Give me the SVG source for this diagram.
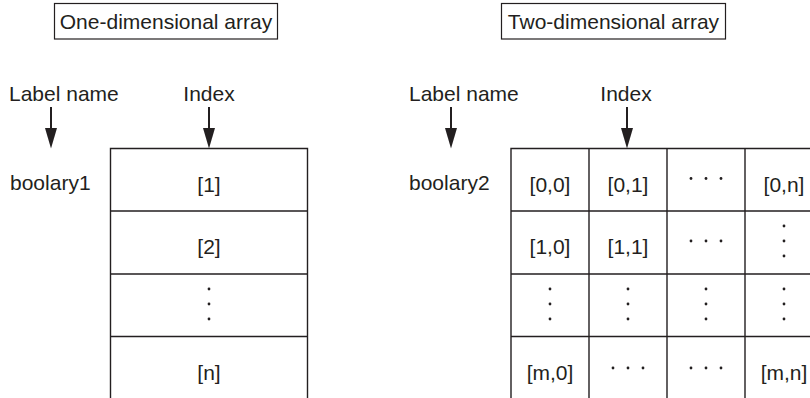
<svg xmlns="http://www.w3.org/2000/svg" width="810" height="398" viewBox="0 0 810 398">
<style>
text{font-family:"Liberation Sans",Arial,sans-serif;font-size:21px;fill:#231f20}
.c{text-anchor:middle}
.box{fill:none;stroke:#231f20;stroke-width:1.2}
.grid{fill:none;stroke:#231f20;stroke-width:1.4}
.shaft{stroke:#231f20;stroke-width:2}
.head{fill:#231f20}
.dot{fill:#231f20}
</style>
<defs>
<g id="vdots"><circle class="dot" cx="0" cy="-15" r="1.4"/><circle class="dot" cx="0" cy="0" r="1.4"/><circle class="dot" cx="0" cy="15" r="1.4"/></g>
<g id="hdots"><circle class="dot" cx="-15" cy="0" r="1.4"/><circle class="dot" cx="0" cy="0" r="1.4"/><circle class="dot" cx="15" cy="0" r="1.4"/></g>
</defs>
<g id="title1"><rect class="box" x="54.5" y="3.5" width="223" height="35.5"/><text class="c" x="166" y="29">One-dimensional array</text></g>
<g id="title2"><rect class="box" x="501.5" y="3.5" width="224" height="35.5"/><text class="c" x="613.5" y="29">Two-dimensional array</text></g>
<g id="labels">
<text x="9" y="100.5">Label name</text>
<text class="c" x="209" y="100.5">Index</text>
<text x="409" y="100.5">Label name</text>
<text class="c" x="626" y="100.5">Index</text>
<text x="10" y="190">boolary1</text>
<text x="409" y="190">boolary2</text>
</g>
<g id="connectors">
<line class="shaft" x1="51" y1="107" x2="51" y2="130"/><polygon class="head" points="45,128 57,128 51,148.5"/>
<line class="shaft" x1="209" y1="107" x2="209" y2="130"/><polygon class="head" points="203,128 215,128 209,148.5"/>
<line class="shaft" x1="451" y1="107" x2="451" y2="130"/><polygon class="head" points="445,128 457,128 451,148.5"/>
<line class="shaft" x1="627" y1="107" x2="627" y2="130"/><polygon class="head" points="621,128 633,128 627,148.5"/>
</g>
<g id="array1">
<path class="grid" d="M110.5,400 V148.5 H307.5 V400 M110.5,211 H307.5 M110.5,274 H307.5 M110.5,336.5 H307.5"/>
<text class="c" x="209" y="191.5">[1]</text>
<text class="c" x="209" y="254">[2]</text>
<use href="#vdots" x="209" y="304"/>
<text class="c" x="209" y="379.5">[n]</text>
</g>
<g id="array2">
<path class="grid" d="M811,148.5 H511 V400 M589,148.5 V400 M667,148.5 V400 M745,148.5 V400 M511,211 H811 M511,274 H811 M511,336.5 H811"/>
<text class="c" x="550" y="191.5">[0,0]</text>
<text class="c" x="628" y="191.5">[0,1]</text>
<use href="#hdots" x="706" y="178.5"/>
<text class="c" x="784" y="191.5">[0,n]</text>
<text class="c" x="550" y="254">[1,0]</text>
<text class="c" x="628" y="254">[1,1]</text>
<use href="#hdots" x="706" y="241"/>
<use href="#vdots" x="784" y="241"/>
<use href="#vdots" x="550" y="304"/>
<use href="#vdots" x="628" y="304"/>
<use href="#vdots" x="706" y="304"/>
<use href="#vdots" x="784" y="304"/>
<text class="c" x="550" y="379.5">[m,0]</text>
<use href="#hdots" x="628" y="368"/>
<use href="#hdots" x="706" y="368"/>
<text class="c" x="784" y="379.5">[m,n]</text>
</g>
</svg>
